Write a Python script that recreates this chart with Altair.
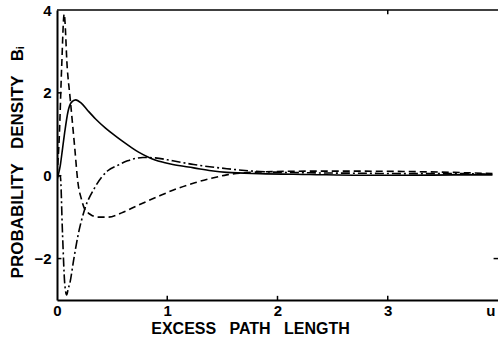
import altair as alt
import pandas as pd

# Three probability-density curves B_I against excess path length u
solid_x = [0.0, 0.01, 0.03, 0.05, 0.07, 0.10, 0.13, 0.17, 0.22, 0.28, 0.35, 0.44, 0.52,
           0.59, 0.67, 0.74, 0.82, 0.89, 0.97, 1.05, 1.24, 1.40, 1.54, 1.84, 2.29,
           2.75, 3.20, 3.60, 3.95]
solid_y = [-0.1, 0.0, 0.25, 0.65, 1.05, 1.55, 1.77, 1.83, 1.75, 1.57, 1.37, 1.15, 0.98,
           0.84, 0.69, 0.57, 0.46, 0.38, 0.32, 0.27, 0.19, 0.12, 0.08, 0.05, 0.03,
           0.01, 0.01, 0.02, 0.02]

dashed_x = [0.0, 0.02, 0.042, 0.065, 0.093, 0.12, 0.16, 0.19, 0.22, 0.25, 0.30, 0.37,
            0.46, 0.60, 0.73, 0.90, 1.09, 1.25, 1.39, 1.54, 1.84, 2.30, 2.75, 3.20,
            3.60, 3.95]
dashed_y = [0.0, 0.9, 2.6, 3.9, 2.6, 1.85, 0.7, -0.17, -0.55, -0.80, -0.93, -1.0,
            -1.0, -0.88, -0.72, -0.52, -0.31, -0.17, -0.07, 0.02, 0.09, 0.11, 0.11, 0.10,
            0.08, 0.05]

dashdot_x = [0.0, 0.03, 0.05, 0.07, 0.088, 0.10, 0.12, 0.15, 0.19, 0.25, 0.34, 0.46,
             0.55, 0.64, 0.78, 0.89, 1.05, 1.24, 1.54, 1.84, 2.29, 2.75, 3.20, 3.60, 3.95]
dashdot_y = [0.0, 0.0, -1.4, -2.6, -2.88, -2.75, -2.55, -2.05, -1.45, -0.82, -0.30, 0.12,
             0.25, 0.36, 0.44, 0.43, 0.36, 0.27, 0.17, 0.10, 0.07, 0.06, 0.05, 0.05, 0.04]

x_tick_values = [0, 1, 2, 3]
x_end_label_pos = 3.93
y_tick_values = [4, 2, 0, -2]

FONT = "Liberation Sans"
X_DOMAIN = [0, 4]
Y_DOMAIN = [-3, 4]
GAP = "\u00a0\u00a0\u00a0"  # wide word spacing in the axis titles

xs = alt.Scale(domain=X_DOMAIN, nice=False, zero=False)
ys = alt.Scale(domain=Y_DOMAIN, nice=False, zero=False)

x_axis = alt.Axis(
    values=x_tick_values + [x_end_label_pos],
    labelExpr="datum.value > 3.5 ? 'u' : format(datum.value, 'd')",
    tickSize=0, grid=False, domainWidth=2, domainColor="black",
    labelFont=FONT, labelFontWeight="bold", labelFontSize=15, labelColor="black",
    labelPadding=3, labelFlush=False, labelOverlap=False,
    title=GAP.join(["EXCESS", "PATH", "LENGTH"]), titleFont=FONT, titleFontWeight="bold",
    titleFontSize=16, titleColor="black",
    titleX=193, titleY=28, titleAlign="center", titleBaseline="middle",
)
y_axis = alt.Axis(
    values=y_tick_values, format="d",
    tickSize=0, grid=False, domainWidth=2, domainColor="black",
    labelFont=FONT, labelFontWeight="bold", labelFontSize=15, labelColor="black",
    labelPadding=6, labelFlush=False, labelOverlap=False,
    title=GAP.join(["PROBABILITY", "DENSITY", "Bᵢ"]), titleFont=FONT, titleFontWeight="bold",
    titleFontSize=17, titleColor="black",
    titleX=-40, titleY=152, titleAlign="center", titleBaseline="middle",
)


def curve(xv, yv, dash):
    df = pd.DataFrame({"u": xv, "b": yv})
    mark_kw = dict(color="black", strokeWidth=1.6, interpolate="monotone", clip=True)
    if dash:
        mark_kw["strokeDash"] = dash
    return alt.Chart(df).mark_line(**mark_kw).encode(
        x=alt.X("u:Q", scale=xs, axis=x_axis),
        y=alt.Y("b:Q", scale=ys, axis=y_axis),
        order="u:Q",
    )


# Frame line along the top of the plot
top_line = alt.Chart(pd.DataFrame({"x0": [X_DOMAIN[0]], "x1": [X_DOMAIN[1]], "y0": [Y_DOMAIN[1]]})).mark_rule(
    color="black", strokeWidth=1.5
).encode(x=alt.X("x0:Q", scale=xs, axis=x_axis), x2="x1:Q", y=alt.Y("y0:Q", scale=ys, axis=y_axis))

# Short inward tick marks
XT, YT = 0.10, 0.04
tick_rows = []
for v in x_tick_values[1:]:
    tick_rows.append({"x0": v, "x1": v, "y0": Y_DOMAIN[0], "y1": Y_DOMAIN[0] + XT})
for v in y_tick_values[1:]:
    tick_rows.append({"x0": X_DOMAIN[0], "x1": X_DOMAIN[0] + YT, "y0": v, "y1": v})
tick_rows.append({"x0": 3, "x1": 3, "y0": Y_DOMAIN[1], "y1": Y_DOMAIN[1] - XT})
tick_rows.append({"x0": X_DOMAIN[1] - YT, "x1": X_DOMAIN[1], "y0": -2, "y1": -2})
ticks = alt.Chart(pd.DataFrame(tick_rows)).mark_rule(color="black", strokeWidth=1.5).encode(
    x=alt.X("x0:Q", scale=xs, axis=x_axis), x2="x1:Q",
    y=alt.Y("y0:Q", scale=ys, axis=y_axis), y2="y1:Q",
)

chart = alt.layer(
    top_line,
    ticks,
    curve(solid_x, solid_y, None),
    curve(dashed_x, dashed_y, [7, 4]),
    curve(dashdot_x, dashdot_y, [9, 3, 2, 3]),
).properties(
    width=441,
    height=290,
    autosize=alt.AutoSizeParams(type="none"),
    padding={"left": 57, "top": 10, "right": 0, "bottom": 41},
    background="white",
).configure_view(stroke=None)

chart.save("out.html", embed_options={"renderer": "svg", "actions": False})
